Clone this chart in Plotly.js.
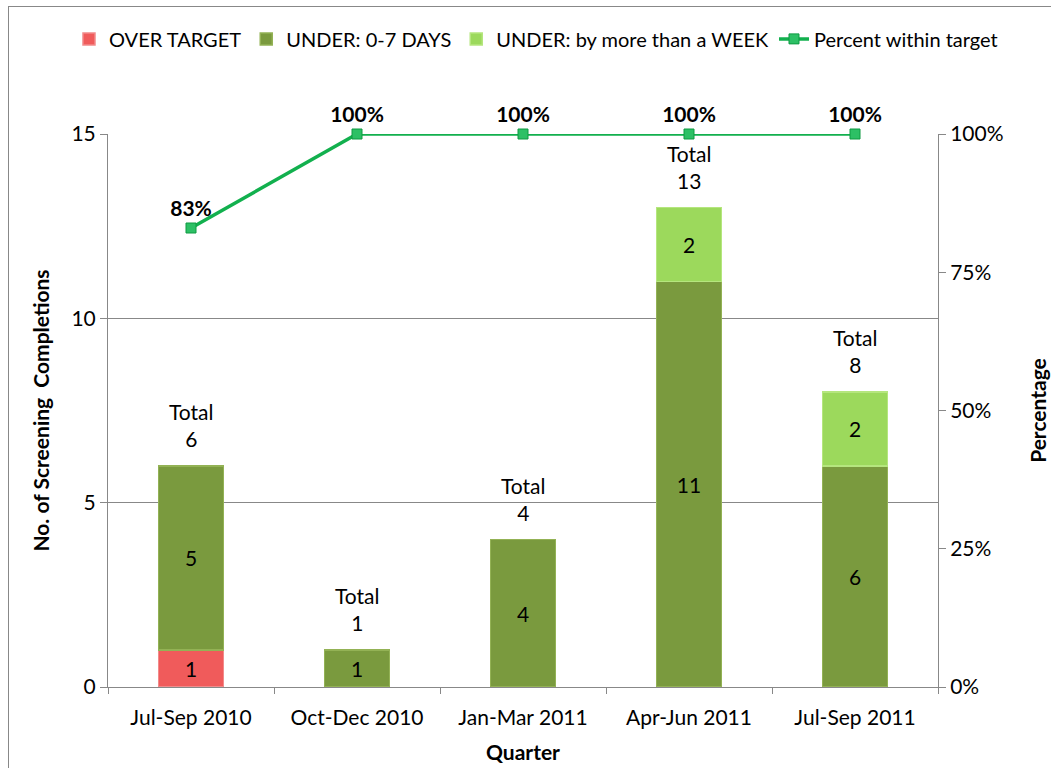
<!DOCTYPE html>
<html>
<head>
<meta charset="utf-8">
<script src="https://cdn.plot.ly/plotly-3.0.1.min.js"></script>
<style>
html,body{margin:0;padding:0;background:#fff;overflow:hidden;}
#chart{width:1051px;height:768px;position:relative;}
#frame{position:absolute;left:8px;top:6px;width:1100px;height:800px;border:1px solid #888;box-sizing:border-box;pointer-events:none;}
</style>
</head>
<body>
<div id="chart"></div>
<div id="frame"></div>
<script>
const quarters = ["Jul-Sep 2010", "Oct-Dec 2010", "Jan-Mar 2011", "Apr-Jun 2011", "Jul-Sep 2011"];
const overTarget = [1, 0, 0, 0, 0];
const under0to7 = [5, 1, 4, 11, 6];
const underWeek = [0, 0, 0, 2, 2];
const percentWithin = [0.83, 1, 1, 1, 1];

const FONT = "Lato, 'Open Sans', sans-serif";
const nz = arr => arr.map(v => v > 0 ? v : null);
const lbl = arr => arr.map(v => v > 0 ? String(v) : "");
const totals = quarters.map((q, i) => overTarget[i] + under0to7[i] + underWeek[i]);

const barCommon = {
  type: "bar", width: 0.39,
  textposition: "inside", insidetextanchor: "middle",
  textfont: {family: FONT, size: 21, color: "#000"},
  constraintext: "none", cliponaxis: false
};

const traces = [
  Object.assign({}, barCommon, {
    name: "OVER TARGET", x: quarters, y: nz(overTarget), text: lbl(overTarget),
    marker: {color: "#F05B5B", line: {color: "#F28A8A", width: 1.5}}
  }),
  Object.assign({}, barCommon, {
    name: "UNDER: 0-7 DAYS", x: quarters, y: nz(under0to7), text: lbl(under0to7),
    marker: {color: "#7A9A3E", line: {color: "#93B255", width: 1.5}}
  }),
  Object.assign({}, barCommon, {
    name: "UNDER: by more than a WEEK", x: quarters, y: nz(underWeek), text: lbl(underWeek),
    marker: {color: "#9CD95C", line: {color: "#B5E67E", width: 1.5}}
  }),
  {
    type: "scatter", mode: "lines+markers+text", name: "Percent within target",
    x: quarters, y: percentWithin, yaxis: "y2",
    text: percentWithin.map(v => "<b>" + Math.round(v * 100) + "%</b>"),
    textposition: "top center",
    textfont: {family: FONT, size: 21, color: "#000"},
    line: {color: "#12B04E", width: 3.5},
    marker: {symbol: "square", size: 10, color: "#2DC065", line: {color: "#0E9A42", width: 1}},
    cliponaxis: false
  }
];

const annotations = quarters.map((q, i) => ({
  x: q, y: totals[i], xref: "x", yref: "y",
  text: "Total<br>" + totals[i], showarrow: false,
  yanchor: "bottom", yshift: 13,
  font: {family: FONT, size: 21, color: "#000"}
}));

const layout = {
  width: 1051, height: 768,
  margin: {l: 108, r: 113, t: 134, b: 81},
  paper_bgcolor: "#fff", plot_bgcolor: "#fff",
  font: {family: FONT, size: 21, color: "#000"},
  barmode: "stack", bargap: 0.61,
  showlegend: true,
  legend: {orientation: "h", x: -0.047, xanchor: "left", y: 1.172, yanchor: "middle",
           font: {family: FONT, size: 20, color: "#000"}, traceorder: "normal",
           itemwidth: 30, tracegroupgap: 0},
  xaxis: {
    type: "category", showline: true, linecolor: "#888", linewidth: 1,
    ticks: "outside", tickson: "boundaries", ticklen: 6, tickcolor: "#888",
    ticklabelstandoff: 12,
    tickfont: {family: FONT, size: 21},
    title: {text: "<b>Quarter</b>", font: {family: FONT, size: 21}, standoff: 17},
    showgrid: false, zeroline: false
  },
  yaxis: {
    range: [0, 15], dtick: 5, tick0: 0, ticks: "outside", ticklen: 7, tickcolor: "#888",
    showline: true, linecolor: "#888", gridcolor: "#888", gridwidth: 1, zeroline: false,
    tickfont: {family: FONT, size: 21},
    title: {text: "<b>No. of Screening  Completions</b>", font: {family: FONT, size: 21}, standoff: 16}
  },
  yaxis2: {
    overlaying: "y", side: "right", range: [0, 1], dtick: 0.25, tick0: 0,
    tickformat: ".0%", ticks: "outside", ticklen: 7, tickcolor: "#888",
    showline: true, linecolor: "#888", showgrid: false, zeroline: false,
    tickfont: {family: FONT, size: 21},
    title: {text: "<b>Percentage</b>", font: {family: FONT, size: 21}, standoff: 28}
  },
  annotations: annotations
};

Plotly.newPlot("chart", traces, layout, {displayModeBar: false, staticPlot: true});
</script>
</body>
</html>
